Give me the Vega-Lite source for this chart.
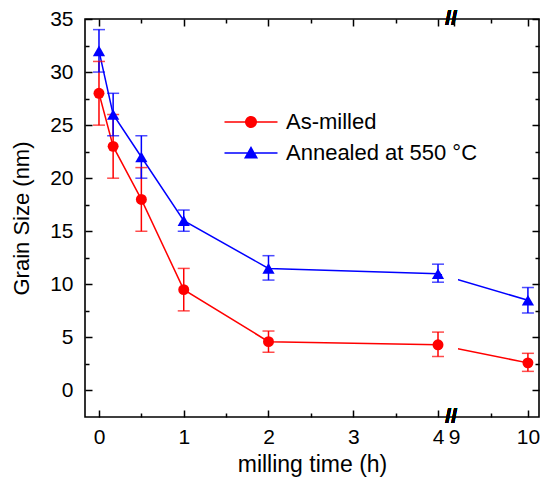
{
  "$schema": "https://vega.github.io/schema/vega-lite/v6.json",
  "width": 454,
  "height": 398,
  "autosize": "none",
  "padding": {"left": 85, "top": 19, "right": 2, "bottom": 64},
  "background": "white",
  "config": {
    "view": {"stroke": "black", "strokeWidth": 1.6},
    "font": "Liberation Sans",
    "axis": {"domain": false, "grid": false, "tickColor": "black", "tickWidth": 1.5, "labelColor": "black", "titleColor": "black", "labelFont": "Liberation Sans", "titleFont": "Liberation Sans", "titleFontWeight": "normal", "labelFontSize": 21, "titleFontSize": 22, "zindex": 1},
    "legend": {"orient": "none", "legendX": 151, "legendY": 88, "title": null, "symbolSize": 900, "labelFontSize": 22, "labelFont": "Liberation Sans", "labelColor": "black", "labelOffset": 20, "labelLimit": 0, "rowPadding": 5, "symbolStrokeWidth": 0, "symbolOpacity": 1}
  },
  "data": {"values": [
    {"series": "As-milled", "t": 0, "v": 28, "lo": 25, "hi": 31},
    {"series": "As-milled", "t": 0.167, "v": 23, "lo": 20, "hi": 26},
    {"series": "As-milled", "t": 0.5, "v": 18, "lo": 15, "hi": 21},
    {"series": "As-milled", "t": 1, "v": 9.5, "lo": 7.5, "hi": 11.5},
    {"series": "As-milled", "t": 2, "v": 4.6, "lo": 3.6, "hi": 5.6},
    {"series": "As-milled", "t": 4, "v": 4.3, "lo": 3.2, "hi": 5.5},
    {"series": "As-milled", "t": 10, "v": 2.6, "lo": 1.8, "hi": 3.5},
    {"series": "Annealed at 550 °C", "t": 0, "v": 32, "lo": 30, "hi": 34},
    {"series": "Annealed at 550 °C", "t": 0.167, "v": 26, "lo": 24, "hi": 28},
    {"series": "Annealed at 550 °C", "t": 0.5, "v": 22, "lo": 20, "hi": 24},
    {"series": "Annealed at 550 °C", "t": 1, "v": 16, "lo": 15, "hi": 17},
    {"series": "Annealed at 550 °C", "t": 2, "v": 11.5, "lo": 10.4, "hi": 12.7},
    {"series": "Annealed at 550 °C", "t": 4, "v": 11, "lo": 10.2, "hi": 11.9},
    {"series": "Annealed at 550 °C", "t": 10, "v": 8.5, "lo": 7.3, "hi": 9.7}
  ]},
  "resolve": {"axis": {"x": "independent", "y": "independent"}},
  "layer": [
    {
      "transform": [{"filter": "false"}],
      "mark": {"type": "point", "filled": true, "opacity": 1},
      "encoding": {
        "x": {"field": "t", "type": "quantitative", "scale": {"type": "linear", "domain": [-0.165, 4, 9, 10.15], "range": [0, 353, 369, 454], "nice": false, "zero": false}, "axis": null},
        "y": {"field": "v", "type": "quantitative", "scale": {"domain": [-2.5, 35], "nice": false, "zero": false}, "axis": null},
        "color": {"field": "series", "type": "nominal", "scale": {"domain": ["As-milled", "Annealed at 550 °C"], "range": ["#ff0000", "#0000ff"]}},
        "shape": {"field": "series", "type": "nominal", "scale": {"domain": ["As-milled", "Annealed at 550 °C"], "range": ["M-1.767,-0.05H1.767V0.05H-1.767Z M0.4,0A0.4,0.4,0,1,1,-0.4,0A0.4,0.4,0,1,1,0.4,0Z", "M-1.767,-0.05H1.767V0.05H-1.767Z M0,-0.47L0.47,0.37L-0.47,0.37Z"]}}
      }
    },
    {
      "mark": {"type": "line", "strokeWidth": 1.5},
      "encoding": {
        "x": {"field": "t", "type": "quantitative", "scale": {"type": "linear", "domain": [-0.165, 4, 9, 10.15], "range": [0, 353, 369, 454], "nice": false, "zero": false},
          "axis": {"orient": "bottom", "values": [0, 0.5, 1, 1.5, 2, 2.5, 3, 3.5, 4, 9, 9.5, 10], "labelExpr": "datum.value % 1 === 0 ? datum.label : ''", "tickSize": {"condition": {"test": "datum.value % 1 === 0", "value": -7}, "value": -4}, "labelPadding": 16, "labelOverlap": false, "labelFlush": false, "title": "milling time (h)", "titleFontSize": 23, "titlePadding": 3}},
        "y": {"field": "v", "type": "quantitative", "scale": {"domain": [-2.5, 35], "nice": false, "zero": false},
          "axis": {"orient": "left", "values": [0, 2.5, 5, 7.5, 10, 12.5, 15, 17.5, 20, 22.5, 25, 27.5, 30, 32.5, 35], "labelExpr": "datum.value % 5 === 0 ? datum.label : ''", "tickSize": {"condition": {"test": "datum.value % 5 === 0", "value": -7}, "value": -4}, "labelPadding": 19, "labelOverlap": false, "labelFlush": false, "title": "Grain Size (nm)", "titlePadding": 16}},
        "color": {"field": "series", "type": "nominal", "scale": {"domain": ["As-milled", "Annealed at 550 °C"], "range": ["#ff0000", "#0000ff"]}},
        "order": {"field": "t", "type": "quantitative"}
      }
    },
    {
      "mark": {"type": "rect", "color": "white"},
      "encoding": {
        "x": {"datum": 5.5, "type": "quantitative", "scale": {"type": "linear", "domain": [-0.165, 4, 9, 10.15], "range": [0, 353, 369, 454], "nice": false, "zero": false}, "axis": null},
        "x2": {"datum": 9.05},
        "y": {"datum": 0, "type": "quantitative", "scale": {"domain": [-2.5, 35], "nice": false, "zero": false}, "axis": null},
        "y2": {"datum": 14}
      }
    },
    {
      "mark": {"type": "rule", "strokeWidth": 1.5},
      "encoding": {
        "x": {"field": "t", "type": "quantitative", "scale": {"type": "linear", "domain": [-0.165, 4, 9, 10.15], "range": [0, 353, 369, 454], "nice": false, "zero": false},
          "axis": {"orient": "top", "values": [0, 0.5, 1, 1.5, 2, 2.5, 3, 3.5, 4, 9, 9.5, 10], "labels": false, "tickSize": {"condition": {"test": "datum.value % 1 === 0", "value": -7}, "value": -4}, "title": null}},
        "y": {"field": "lo", "type": "quantitative", "scale": {"domain": [-2.5, 35], "nice": false, "zero": false},
          "axis": {"orient": "right", "values": [0, 2.5, 5, 7.5, 10, 12.5, 15, 17.5, 20, 22.5, 25, 27.5, 30, 32.5, 35], "labels": false, "tickSize": {"condition": {"test": "datum.value % 5 === 0", "value": -7}, "value": -4}, "title": null}},
        "y2": {"field": "hi"},
        "color": {"field": "series", "type": "nominal", "scale": {"domain": ["As-milled", "Annealed at 550 °C"], "range": ["#ff0000", "#0000ff"]}}
      }
    },
    {
      "mark": {"type": "tick", "orient": "horizontal", "size": 12, "thickness": 1.5},
      "encoding": {
        "x": {"field": "t", "type": "quantitative", "scale": {"type": "linear", "domain": [-0.165, 4, 9, 10.15], "range": [0, 353, 369, 454], "nice": false, "zero": false}, "axis": null},
        "y": {"field": "lo", "type": "quantitative", "scale": {"domain": [-2.5, 35], "nice": false, "zero": false}, "axis": null},
        "color": {"field": "series", "type": "nominal", "scale": {"domain": ["As-milled", "Annealed at 550 °C"], "range": ["#ff0000", "#0000ff"]}}
      }
    },
    {
      "mark": {"type": "tick", "orient": "horizontal", "size": 12, "thickness": 1.5},
      "encoding": {
        "x": {"field": "t", "type": "quantitative", "scale": {"type": "linear", "domain": [-0.165, 4, 9, 10.15], "range": [0, 353, 369, 454], "nice": false, "zero": false}, "axis": null},
        "y": {"field": "hi", "type": "quantitative", "scale": {"domain": [-2.5, 35], "nice": false, "zero": false}, "axis": null},
        "color": {"field": "series", "type": "nominal", "scale": {"domain": ["As-milled", "Annealed at 550 °C"], "range": ["#ff0000", "#0000ff"]}}
      }
    },
    {
      "transform": [{"filter": "datum.series === 'As-milled'"}],
      "mark": {"type": "point", "shape": "circle", "filled": true, "size": 120, "opacity": 1},
      "encoding": {
        "x": {"field": "t", "type": "quantitative", "scale": {"type": "linear", "domain": [-0.165, 4, 9, 10.15], "range": [0, 353, 369, 454], "nice": false, "zero": false}, "axis": null},
        "y": {"field": "v", "type": "quantitative", "scale": {"domain": [-2.5, 35], "nice": false, "zero": false}, "axis": null},
        "color": {"field": "series", "type": "nominal", "scale": {"domain": ["As-milled", "Annealed at 550 °C"], "range": ["#ff0000", "#0000ff"]}}
      }
    },
    {
      "transform": [{"filter": "datum.series !== 'As-milled'"}],
      "mark": {"type": "point", "shape": "triangle-up", "filled": true, "size": 150, "opacity": 1},
      "encoding": {
        "x": {"field": "t", "type": "quantitative", "scale": {"type": "linear", "domain": [-0.165, 4, 9, 10.15], "range": [0, 353, 369, 454], "nice": false, "zero": false}, "axis": null},
        "y": {"field": "v", "type": "quantitative", "scale": {"domain": [-2.5, 35], "nice": false, "zero": false}, "axis": null},
        "color": {"field": "series", "type": "nominal", "scale": {"domain": ["As-milled", "Annealed at 550 °C"], "range": ["#ff0000", "#0000ff"]}}
      }
    },
    {
      "mark": {"type": "text", "text": "//", "fontSize": 21, "fontWeight": "bold", "color": "black", "align": "center", "baseline": "middle"},
      "encoding": {
        "x": {"datum": 8.1, "type": "quantitative", "scale": {"type": "linear", "domain": [-0.165, 4, 9, 10.15], "range": [0, 353, 369, 454], "nice": false, "zero": false}, "axis": null},
        "y": {"datum": 35, "type": "quantitative", "scale": {"domain": [-2.5, 35], "nice": false, "zero": false}, "axis": null}
      }
    },
    {
      "mark": {"type": "text", "text": "//", "fontSize": 21, "fontWeight": "bold", "color": "black", "align": "center", "baseline": "middle"},
      "encoding": {
        "x": {"datum": 8.1, "type": "quantitative", "scale": {"type": "linear", "domain": [-0.165, 4, 9, 10.15], "range": [0, 353, 369, 454], "nice": false, "zero": false}, "axis": null},
        "y": {"datum": -2.5, "type": "quantitative", "scale": {"domain": [-2.5, 35], "nice": false, "zero": false}, "axis": null}
      }
    }
  ]
}
